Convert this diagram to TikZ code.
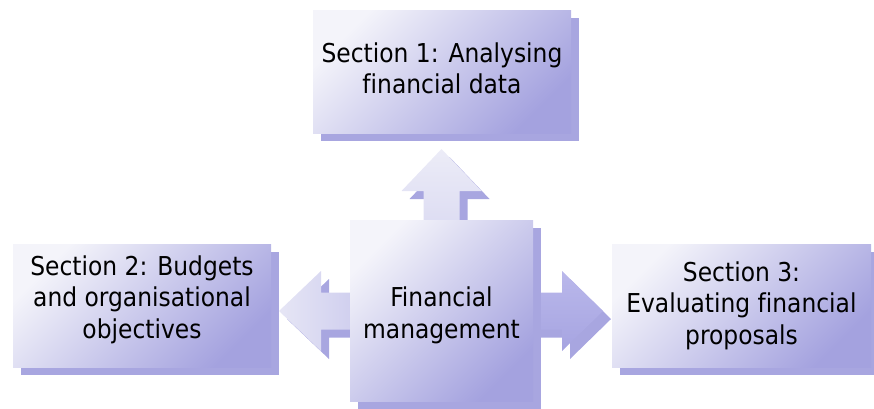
\documentclass[tikz,border=0pt]{standalone}
\usepackage{fontspec}
\setmainfont[Ligatures=NoCommon]{DejaVu Sans Condensed}
\usetikzlibrary{shadows,calc}
\definecolor{lite}{RGB}{244,244,250}
\definecolor{dark}{RGB}{164,162,223}
\definecolor{shad}{RGB}{168,166,224}
\definecolor{arrlite}{RGB}{236,236,247}
\definecolor{arrmid}{RGB}{206,205,238}
\definecolor{rarrtop}{RGB}{186,184,235}
\definecolor{rarrbot}{RGB}{166,164,225}
\begin{document}
\begin{tikzpicture}[x=1pt,y=-1pt,
  box/.style={shade, top color=lite, bottom color=dark, shading angle=45,
    inner sep=0pt,
    general shadow={fill=shad, shadow xshift=8pt, shadow yshift=-8pt}},
  txt/.style={align=center, inner sep=0pt, font=\fontsize{26}{31.5}\selectfont},
  arrshadow/.style={fill=shad, transform canvas={xshift=8pt,yshift=-8pt}}
 ]
\useasboundingbox (0,0) rectangle (874,408);
\coordinate (fmc) at (441.5,310.5);
% arrow bases (on the centre box sides)
\coordinate (upbase) at (441.5,220);
\coordinate (lbase) at (350,311);
\coordinate (rbase) at (533,311);
% up arrow
\fill[arrshadow] ($(upbase)+(-18,20)$) -- ++(0,-49) -- ++(-22,0) -- ++(40,-42) -- ++(40,42) -- ++(-22,0) -- ++(0,49) -- cycle;
\shade[top color=arrlite, bottom color=arrmid!60!arrlite]
  ($(upbase)+(-18,20)$) -- ++(0,-49) -- ++(-22,0) -- ++(40,-42) -- ++(40,42) -- ++(-22,0) -- ++(0,49) -- cycle;
% left arrow
\fill[arrshadow] ($(lbase)+(10,-18.5)$) -- ++(-39,0) -- ++(0,-21.5) -- ++(-42,40) -- ++(42,40) -- ++(0,-21.5) -- ++(39,0) -- cycle;
\shade[left color=arrlite!80!arrmid, right color=arrmid]
  ($(lbase)+(10,-18.5)$) -- ++(-39,0) -- ++(0,-21.5) -- ++(-42,40) -- ++(42,40) -- ++(0,-21.5) -- ++(39,0) -- cycle;
% right arrow
\fill[arrshadow] ($(rbase)+(-10,-18.5)$) -- ++(39,0) -- ++(0,-21.5) -- ++(41,40) -- ++(-41,40) -- ++(0,-21.5) -- ++(-39,0) -- cycle;
\shade[top color=rarrtop, bottom color=rarrbot]
  ($(rbase)+(-10,-18.5)$) -- ++(39,0) -- ++(0,-21.5) -- ++(41,40) -- ++(-41,40) -- ++(0,-21.5) -- ++(-39,0) -- cycle;
% boxes
\node[box, minimum width=183pt, minimum height=181pt,
  label={[txt, yshift=-5pt]center:{Financial\\management}}] (fm) at (fmc) {};
\node[box, minimum width=258pt, minimum height=123pt,
  label={[txt, yshift=3pt]center:{Section 1: Analysing\\financial data}}] (s1) at (442,71.5) {};
\node[box, minimum width=258pt, minimum height=123pt,
  label={[txt, yshift=6pt]center:{Section 2: Budgets\\and organisational\\objectives}}] (s2) at (142,305.5) {};
\node[box, minimum width=259pt, minimum height=123pt,
  label={[txt]center:{Section 3:\\Evaluating financial\\proposals}}] (s3) at (741.5,305.5) {};
\end{tikzpicture}
\end{document}
